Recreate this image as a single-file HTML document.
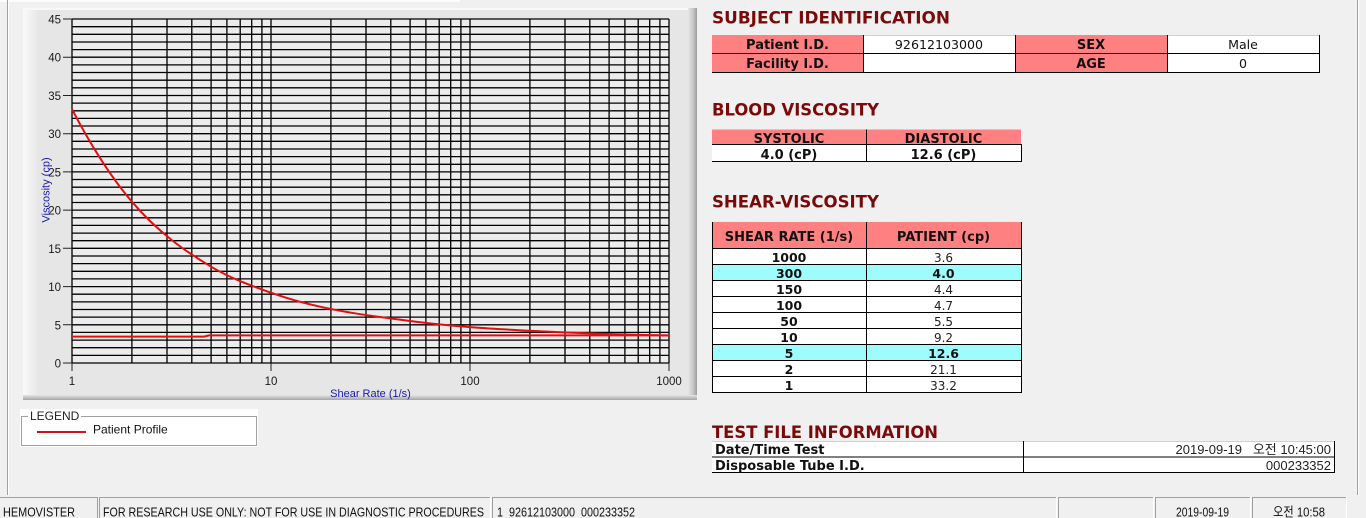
<!DOCTYPE html>
<html><head><meta charset="utf-8">
<style>
html,body{margin:0;padding:0;background:#f0f0f0;width:1366px;height:518px;overflow:hidden}
svg{display:block}
.pre{white-space:pre}
</style></head>
<body>
<svg width="1366" height="518" viewBox="0 0 1366 518" xmlns="http://www.w3.org/2000/svg">
<defs>
<linearGradient id="lg" x1="0" x2="1" y1="0" y2="0"><stop offset="0" stop-color="#fafafa"/><stop offset="1" stop-color="#e6e6e6"/></linearGradient>
<linearGradient id="rg" x1="0" x2="1" y1="0" y2="0"><stop offset="0" stop-color="#e6e6e6"/><stop offset="0.6" stop-color="#c4c4c4"/><stop offset="1" stop-color="#9c9c9c"/></linearGradient>
<linearGradient id="bg" x1="0" x2="0" y1="0" y2="1"><stop offset="0" stop-color="#e6e6e6"/><stop offset="1" stop-color="#a4a4a4"/></linearGradient>
</defs>

<!-- window borders -->
<rect x="0" y="0" width="460" height="2" fill="#fcfcfc"/>
<rect x="7" y="0" width="1" height="495" fill="#a0a0a0"/>
<rect x="8" y="0" width="1" height="495" fill="#ffffff"/>
<rect x="1357" y="0" width="1" height="495" fill="#a0a0a0"/>
<rect x="1358" y="0" width="1" height="495" fill="#ffffff"/>

<!-- chart panel -->
<rect x="23" y="8" width="674" height="392" fill="#e6e6e6"/>
<rect x="23" y="8" width="16" height="392" fill="url(#lg)"/>
<rect x="23" y="8" width="674" height="2" fill="#f8f8f8"/>
<rect x="688" y="8" width="9" height="392" fill="url(#rg)"/>
<rect x="23" y="395" width="674" height="5" fill="url(#bg)"/>

<!-- plot area -->
<rect x="72" y="19" width="597" height="344" fill="#ececec"/>
<path fill="none" stroke="#000" stroke-width="1.3" d="M72 363H669M72 355.4H669M72 347.7H669M72 340.1H669M72 332.4H669M72 324.8H669M72 317.1H669M72 309.5H669M72 301.9H669M72 294.2H669M72 286.6H669M72 278.9H669M72 271.3H669M72 263.6H669M72 256H669M72 248.3H669M72 240.7H669M72 233.1H669M72 225.4H669M72 217.8H669M72 210.1H669M72 202.5H669M72 194.8H669M72 187.2H669M72 179.5H669M72 171.9H669M72 164.3H669M72 156.6H669M72 149H669M72 141.3H669M72 133.7H669M72 126H669M72 118.4H669M72 110.8H669M72 103.1H669M72 95.5H669M72 87.8H669M72 80.2H669M72 72.5H669M72 64.9H669M72 57.2H669M72 49.6H669M72 42H669M72 34.3H669M72 26.7H669M72 19H669"/>
<path fill="none" stroke="#000" stroke-width="1.3" d="M72 19V363M131.9 19V363M167 19V363M191.8 19V363M211.1 19V363M226.9 19V363M240.2 19V363M251.7 19V363M261.9 19V363M271 19V363M330.9 19V363M366 19V363M390.8 19V363M410.1 19V363M425.9 19V363M439.2 19V363M450.7 19V363M460.9 19V363M470 19V363M529.9 19V363M565 19V363M589.8 19V363M609.1 19V363M624.9 19V363M638.2 19V363M649.7 19V363M659.9 19V363M669 19V363"/>

<!-- ticks -->
<path fill="none" stroke="#222" stroke-width="1" d="M63 363H72M63 324.8H72M63 286.6H72M63 248.3H72M63 210.1H72M63 171.9H72M63 133.7H72M63 95.5H72M63 57.2H72M63 19H72M72 363V371M271 363V371M470 363V371M669 363V371"/>

<g font-family="Liberation Sans, sans-serif" font-size="11.5" fill="#1a1a1a" text-anchor="end">
<text x="61" y="367.5">0</text>
<text x="61" y="329.3">5</text>
<text x="61" y="291.1">10</text>
<text x="61" y="252.8">15</text>
<text x="61" y="214.6">20</text>
<text x="61" y="176.4">25</text>
<text x="61" y="138.2">30</text>
<text x="61" y="100">35</text>
<text x="61" y="61.7">40</text>
<text x="61" y="23.5">45</text>
</g>
<g font-family="Liberation Sans, sans-serif" font-size="11.5" fill="#1a1a1a" text-anchor="middle">
<text x="72" y="385">1</text>
<text x="271" y="385">10</text>
<text x="470" y="385">100</text>
<text x="669" y="385">1000</text>
</g>
<text x="370.5" y="397" font-family="Liberation Sans, sans-serif" font-size="11" fill="#1a1aa6" text-anchor="middle">Shear Rate (1/s)</text>
<text transform="translate(49.5,190) rotate(-90)" font-family="Liberation Sans, sans-serif" font-size="11" fill="#1a1aa6" text-anchor="middle">Viscosity (cp)</text>

<!-- series -->
<path fill="none" stroke="#e01010" stroke-width="2" d="M72,109.2 C92,147.5 111.9,178.3 131.9,201.7 C158.3,232.6 184.7,250.9 211.1,266.7 C231.1,278.7 251,285.5 271,292.7 C317.4,309.4 363.7,315 410.1,321 C430.1,323.6 450,325.5 470,327.1 C481.7,328 493.3,328.7 505,329.4 C525,330.6 544.9,331.5 564.9,332.4 C599.6,333.9 634.3,334.9 669,335.5"/>
<path fill="none" stroke="#e01010" stroke-width="2" d="M72,336.6 H204 L209,335.4 H669"/>

<!-- legend -->
<rect x="20" y="409" width="238" height="38" fill="#ffffff"/>
<rect x="21.5" y="416.5" width="235" height="29" fill="#fff" stroke="#a0a0a0" stroke-width="1"/>
<rect x="28" y="410" width="53" height="12" fill="#fff"/>
<text x="30" y="420" font-family="Liberation Sans, sans-serif" font-size="12" fill="#222">LEGEND</text>
<rect x="37" y="431" width="49" height="2" fill="#cc1414"/>
<text x="93" y="433.5" font-family="Liberation Sans, sans-serif" font-size="12" fill="#111">Patient Profile</text>

<!-- titles -->
<g font-family="DejaVu Sans, sans-serif" font-weight="bold" font-size="16.5" fill="#7a0a0a">
<text x="712" y="23.5" textLength="238" lengthAdjust="spacingAndGlyphs">SUBJECT IDENTIFICATION</text>
<text x="712" y="115.5" textLength="167" lengthAdjust="spacingAndGlyphs">BLOOD VISCOSITY</text>
<text x="712" y="207.5" textLength="167" lengthAdjust="spacingAndGlyphs">SHEAR-VISCOSITY</text>
<text x="712" y="438" textLength="226" lengthAdjust="spacingAndGlyphs">TEST FILE INFORMATION</text>
</g>

<!-- table 1 -->
<rect x="712" y="35" width="151" height="37" fill="#ff8080"/>
<rect x="863" y="35" width="152" height="37" fill="#ffffff"/>
<rect x="1015" y="35" width="152" height="37" fill="#ff8080"/>
<rect x="1167" y="35" width="152" height="37" fill="#ffffff"/>
<path fill="none" stroke="#d0d0d0" stroke-width="1" d="M863 35.5H1015M1167 35.5H1319"/>
<path fill="none" stroke="#000" stroke-width="1" d="M712 53.5H1319M712 72.5H1319M863.5 35V73M1015.5 35V73M1167.5 35V73M1319.5 35V73"/>
<g font-family="DejaVu Sans, sans-serif" font-size="13" text-anchor="middle" fill="#111">
<text x="787.5" y="49" font-weight="bold">Patient I.D.</text>
<text x="787.5" y="68" font-weight="bold">Facility I.D.</text>
<text x="1091" y="49" font-weight="bold">SEX</text>
<text x="1091" y="68" font-weight="bold">AGE</text>
<text x="939" y="49" font-size="12.6">92612103000</text>
<text x="1243" y="49" font-size="12.6">Male</text>
<text x="1243" y="68" font-size="12.6">0</text>
</g>

<!-- blood viscosity table -->
<rect x="712" y="129.5" width="309" height="15" fill="#ff8080"/>
<rect x="712" y="144.5" width="309" height="16.5" fill="#ffffff"/>
<path fill="none" stroke="#000" stroke-width="1" d="M712 144.5H1022M712 161.5H1022M866.5 129.5V161.5M1021.5 144.5V161.5"/>
<g font-family="DejaVu Sans, sans-serif" font-size="13" font-weight="bold" text-anchor="middle" fill="#111">
<text x="789" y="143">SYSTOLIC</text>
<text x="943.5" y="143">DIASTOLIC</text>
<text x="789" y="159">4.0 (cP)</text>
<text x="943.5" y="159">12.6 (cP)</text>
</g>

<!-- shear table -->
<rect x="712" y="222" width="309" height="26" fill="#ff8080"/>
<rect x="712" y="248" width="309" height="144" fill="#ffffff"/>
<rect x="712" y="264" width="309" height="16" fill="#9ffcfc"/>
<rect x="712" y="344" width="309" height="16" fill="#9ffcfc"/>
<path fill="none" stroke="#000" stroke-width="1" d="M712 248.5H1022M712 264.5H1022M712 280.5H1022M712 296.5H1022M712 312.5H1022M712 328.5H1022M712 344.5H1022M712 360.5H1022M712 376.5H1022M712 392.5H1022M712.5 222V393M866.5 222V393M1021.5 222V393"/>
<g font-family="DejaVu Sans, sans-serif" font-size="13" font-weight="bold" text-anchor="middle" fill="#111">
<text x="789" y="241">SHEAR RATE (1/s)</text>
<text x="943.5" y="241">PATIENT (cp)</text>
</g>
<g font-family="DejaVu Sans, sans-serif" font-size="12.5" font-weight="bold" text-anchor="middle" fill="#111">
<text x="789" y="262">1000</text>
<text x="789" y="278">300</text>
<text x="789" y="294">150</text>
<text x="789" y="310">100</text>
<text x="789" y="326">50</text>
<text x="789" y="342">10</text>
<text x="789" y="358">5</text>
<text x="789" y="374">2</text>
<text x="789" y="390">1</text>
<text x="943.5" y="278">4.0</text>
<text x="943.5" y="358">12.6</text>
</g>
<g font-family="DejaVu Sans, sans-serif" font-size="12" text-anchor="middle" fill="#222">
<text x="943.5" y="262">3.6</text>
<text x="943.5" y="294">4.4</text>
<text x="943.5" y="310">4.7</text>
<text x="943.5" y="326">5.5</text>
<text x="943.5" y="342">9.2</text>
<text x="943.5" y="374">21.1</text>
<text x="943.5" y="390">33.2</text>
</g>

<!-- test file table -->
<rect x="712" y="441" width="622" height="31.5" fill="#ffffff"/>
<path fill="none" stroke="#d0d0d0" stroke-width="1" d="M712 441.5H1334"/>
<path fill="none" stroke="#000" stroke-width="1" d="M712 457H1334M712 472.5H1334M1023.5 441V473M1334.5 441V473"/>
<g font-family="DejaVu Sans, sans-serif" font-size="13" font-weight="bold" fill="#111">
<text x="715" y="454">Date/Time Test</text>
<text x="715" y="470">Disposable Tube I.D.</text>
</g>
<g class="pre" font-family="Liberation Sans, 'Noto Sans CJK KR', sans-serif" font-size="13" fill="#222" text-anchor="end">
<text x="1331" y="454" xml:space="preserve">2019-09-19   오전 10:45:00</text>
<text x="1331" y="470">000233352</text>
</g>

<!-- status bar -->
<g fill="none" stroke-width="1">
<path stroke="#a0a0a0" d="M0 497.5H97M97.5 497V518"/>
<path stroke="#a0a0a0" d="M99.5 518V497.5H490"/><path stroke="#fff" d="M490.5 497V518"/>
<path stroke="#a0a0a0" d="M492.5 518V497.5H1056"/><path stroke="#fff" d="M1056.5 497V518"/>
<path stroke="#a0a0a0" d="M1058.5 518V497.5H1153"/><path stroke="#fff" d="M1153.5 497V518"/>
<path stroke="#a0a0a0" d="M1155.5 518V497.5H1250"/><path stroke="#fff" d="M1250.5 497V518"/>
<path stroke="#a0a0a0" d="M1252.5 518V497.5H1346"/><path stroke="#fff" d="M1346.5 497V518"/>
</g>
<g class="pre" font-family="Liberation Sans, 'Noto Sans CJK KR', sans-serif" font-size="13" fill="#111">
<text x="3" y="516.5" textLength="72" lengthAdjust="spacingAndGlyphs">HEMOVISTER</text>
<text x="103" y="516.5" textLength="381" lengthAdjust="spacingAndGlyphs">FOR RESEARCH USE ONLY: NOT FOR USE IN DIAGNOSTIC PROCEDURES</text>
<text x="497" y="516.5" textLength="138" lengthAdjust="spacingAndGlyphs" xml:space="preserve">1  92612103000  000233352</text>
<text x="1176" y="516.5" textLength="53" lengthAdjust="spacingAndGlyphs">2019-09-19</text>
<text x="1273" y="516.5" textLength="52" lengthAdjust="spacingAndGlyphs">오전 10:58</text>
</g>
</svg>
</body></html>
